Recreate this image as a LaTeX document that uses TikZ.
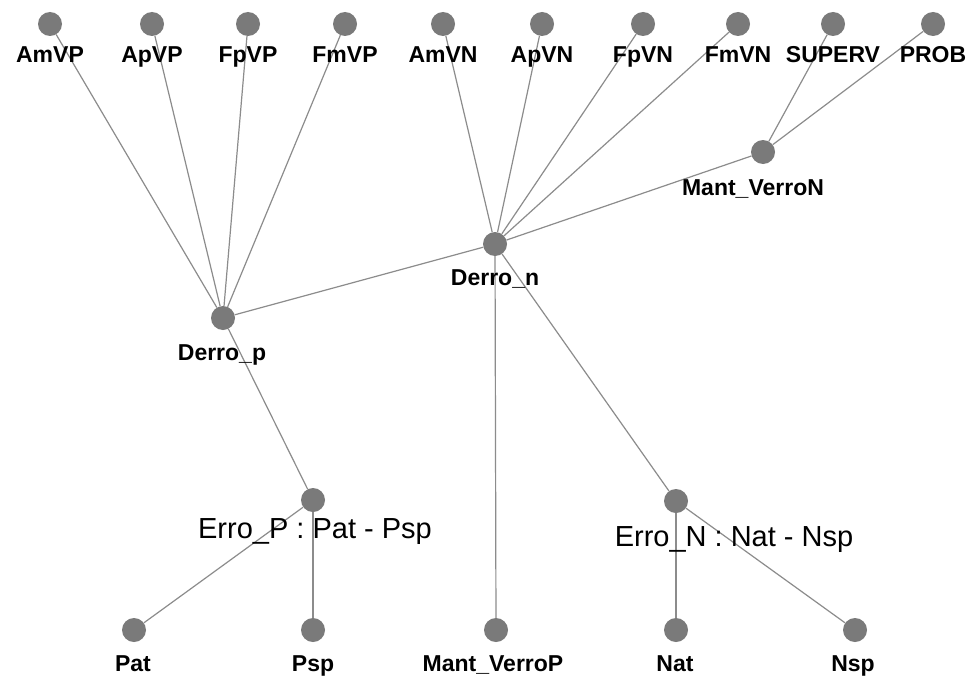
\documentclass[tikz,border=0pt]{standalone}
\usepackage{fontspec}
\setmainfont{Liberation Sans}
\definecolor{nodegray}{gray}{0.48}
\definecolor{edgegray}{gray}{0.55}
\tikzset{
  var/.style={circle, fill=nodegray, minimum size=24pt, inner sep=0pt},
  lbl/.style={anchor=base, inner sep=0pt, font=\bfseries\fontsize{23}{23}\selectfont},
  elbl/.style={anchor=base, inner sep=0pt, font=\fontsize{29}{29}\selectfont},
  link/.style={draw=edgegray, line width=1.2pt}
}
\begin{document}
\begin{tikzpicture}[x=1pt, y=-1pt]
\useasboundingbox (0,0) rectangle (971,677);
\fill[white] (0,0) rectangle (971,677);

% variable nodes
\node[var] (AmVP) at (50,24) {};
\node[var] (ApVP) at (152,24) {};
\node[var] (FpVP) at (248,24) {};
\node[var] (FmVP) at (345,24) {};
\node[var] (AmVN) at (443,24) {};
\node[var] (ApVN) at (542,24) {};
\node[var] (FpVN) at (643,24) {};
\node[var] (FmVN) at (738,24) {};
\node[var] (SUPERV) at (833,24) {};
\node[var] (PROB) at (933,24) {};
\node[var] (MantVerroN) at (763,152) {};
\node[var] (Derron) at (495,244) {};
\node[var] (Derrop) at (223,318) {};
\node[var] (ErroP) at (313,500) {};
\node[var] (ErroN) at (676,501) {};
\node[var] (Pat) at (134,630) {};
\node[var] (Psp) at (313,630) {};
\node[var] (MantVerroP) at (496,630) {};
\node[var] (Nat) at (676,630) {};
\node[var] (Nsp) at (855,630) {};

% links between variables, from disc edge to disc edge
\foreach \a/\b in {AmVP/Derrop, ApVP/Derrop, FpVP/Derrop, FmVP/Derrop,
                   AmVN/Derron, ApVN/Derron, FpVN/Derron, FmVN/Derron,
                   SUPERV/MantVerroN, PROB/MantVerroN, MantVerroN/Derron,
                   Derron/Derrop, Derrop/ErroP, ErroP/Pat, ErroP/Psp,
                   Derron/MantVerroP, Derron/ErroN, ErroN/Nat, ErroN/Nsp}
  \path[link] (\a) -- (\b);

% labels
\node[lbl] (AmVP-l) at (50,63) {AmVP};
\node[lbl] (ApVP-l) at (152,63) {ApVP};
\node[lbl] (FpVP-l) at (248,63) {FpVP};
\node[lbl] (FmVP-l) at (345,63) {FmVP};
\node[lbl] (AmVN-l) at (443,63) {AmVN};
\node[lbl] (ApVN-l) at (542,63) {ApVN};
\node[lbl] (FpVN-l) at (643,63) {FpVN};
\node[lbl] (FmVN-l) at (738,63) {FmVN};
\node[lbl] (SUPERV-l) at (833,63) {SUPERV};
\node[lbl] (PROB-l) at (933,63) {PROB};
\node[lbl] (MantVerroN-l) at (753,195) {Mant\_VerroN};
\node[lbl] (Derron-l) at (495,285) {Derro\_n};
\node[lbl] (Derrop-l) at (222,360) {Derro\_p};
\node[elbl] (ErroP-l) at (315,538) {Erro\_P : Pat - Psp};
\node[elbl] (ErroN-l) at (734,546) {Erro\_N : Nat - Nsp};
\node[lbl] (Pat-l) at (133,671) {Pat};
\node[lbl] (Psp-l) at (313,671) {Psp};
\node[lbl] (MantVerroP-l) at (493,671) {Mant\_VerroP};
\node[lbl] (Nat-l) at (675,671) {Nat};
\node[lbl] (Nsp-l) at (853,671) {Nsp};
\end{tikzpicture}
\end{document}
